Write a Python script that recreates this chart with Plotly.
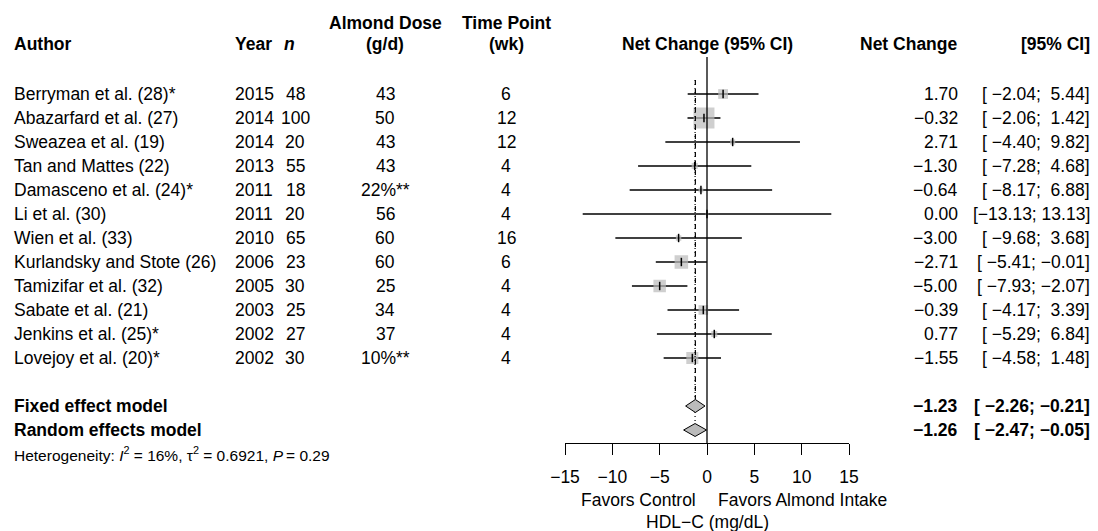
import plotly.graph_objects as go
import numpy as np

# ---- data ----
authors = ["Berryman et al. (28)*", "Abazarfard et al. (27)", "Sweazea et al. (19)",
           "Tan and Mattes (22)", "Damasceno et al. (24)*", "Li et al. (30)",
           "Wien et al. (33)", "Kurlandsky and Stote (26)", "Tamizifar et al. (32)",
           "Sabate et al. (21)", "Jenkins et al. (25)*", "Lovejoy et al. (20)*"]
years = [2015, 2014, 2014, 2013, 2011, 2011, 2010, 2006, 2005, 2003, 2002, 2002]
n_sub = [48, 100, 20, 55, 18, 20, 65, 23, 30, 25, 27, 30]
dose = ["43", "50", "43", "43", "22%**", "56", "60", "60", "25", "34", "37", "10%**"]
weeks = [6, 12, 12, 4, 4, 4, 16, 6, 4, 4, 4, 4]
net_change = [1.70, -0.32, 2.71, -1.30, -0.64, 0.00, -3.00, -2.71, -5.00, -0.39, 0.77, -1.55]
ci_lower = [-2.04, -2.06, -4.40, -7.28, -8.17, -13.13, -9.68, -5.41, -7.93, -4.17, -5.29, -4.58]
ci_upper = [5.44, 1.42, 9.82, 4.68, 6.88, 13.13, 3.68, -0.01, -2.07, 3.39, 6.84, 1.48]
fixed_est, fixed_lo, fixed_hi = -1.23, -2.26, -0.21
random_est, random_lo, random_hi = -1.26, -2.47, -0.05
het_i2, het_tau2, het_p = "16%", "0.6921", "0.29"
tick_vals = [-15, -10, -5, 0, 5, 10, 15]

W, H = 1098, 531
FONT = "Liberation Sans, Arial, Helvetica, sans-serif"
FS = 17.5
GREY = "#BBBBBB"

def px(x):
    return x / W

def mfmt(v):
    return f"{v:.2f}".replace("-", "\u2212")

k = len(authors)
rows = list(range(k))
row_fixed, row_random, row_het = k + 1, k + 2, k + 3
row_axis = (443 - 94) / 24

# y axis in row units: row 0 at pixel 94, 24 px per row
y_top = -94 / 24
y_bot = (H - 94) / 24

fig = go.Figure()

# CI lines
cx, cy = [], []
for r, lo, hi in zip(rows, ci_lower, ci_upper):
    cx += [lo, hi, None]
    cy += [r, r, None]
fig.add_trace(go.Scatter(x=cx, y=cy, mode="lines", line=dict(color="black", width=1.3),
                         hoverinfo="skip", showlegend=False))

# squares sized by inverse-variance weight
se = (np.array(ci_upper) - np.array(ci_lower)) / 3.92
w = 1 / se ** 2
sizes = 21 * np.sqrt(w / w.max())
fig.add_trace(go.Scatter(x=net_change, y=rows, mode="markers",
                         marker=dict(symbol="square", size=sizes, color=GREY, line=dict(width=0)),
                         hoverinfo="skip", showlegend=False))
fig.add_trace(go.Scatter(x=net_change, y=rows, mode="markers",
                         marker=dict(symbol="line-ns", size=6, line=dict(color="black", width=1.5)),
                         hoverinfo="skip", showlegend=False))

# reference lines
fig.add_trace(go.Scatter(x=[0, 0], y=[-1.54, row_axis], mode="lines",
                         line=dict(color="black", width=1.3), hoverinfo="skip", showlegend=False))
fig.add_trace(go.Scatter(x=[fixed_est, fixed_est], y=[-0.58, row_fixed - 0.27], mode="lines",
                         line=dict(color="black", width=1.2, dash="5px,4px"),
                         hoverinfo="skip", showlegend=False))
fig.add_trace(go.Scatter(x=[random_est, random_est], y=[-0.58, row_random - 0.27], mode="lines",
                         line=dict(color="black", width=1.2, dash="1px,3px"),
                         hoverinfo="skip", showlegend=False))

# diamonds
for r, est, lo, hi in [(row_fixed, fixed_est, fixed_lo, fixed_hi),
                       (row_random, random_est, random_lo, random_hi)]:
    fig.add_trace(go.Scatter(x=[lo, est, hi, est, lo], y=[r, r - 0.27, r, r + 0.27, r],
                             mode="lines", fill="toself", fillcolor=GREY,
                             line=dict(color="black", width=1), hoverinfo="skip", showlegend=False))

ann = []

def add(text, x, y, anchor="left", bold=False, size=FS, xref="paper"):
    if bold:
        text = f"<b>{text}</b>"
    ann.append(dict(text=text, x=x, y=y, xref=xref, yref="y", xanchor=anchor, yanchor="middle",
                    showarrow=False, font=dict(family=FONT, size=size, color="black")))

X_AUTH, X_YEAR, X_N, X_DOSE, X_WK, X_NC, X_CI = 12, 233, 295, 385, 506, 960, 1092
X_ZERO = 707

# headers
hy2, hy1 = -2.08, -2.96
add("Author", px(X_AUTH), hy2, bold=True)
add("Year", px(X_YEAR), hy2, bold=True)
add("<i>n</i>", px(X_N - 6), hy2, "center", bold=True)
add("Almond Dose", px(X_DOSE), hy1, "center", bold=True)
add("(g/d)", px(X_DOSE), hy2, "center", bold=True)
add("Time Point", px(X_WK), hy1, "center", bold=True)
add("(wk)", px(X_WK), hy2, "center", bold=True)
add("Net Change (95% CI)", px(X_ZERO), hy2, "center", bold=True)
add("Net Change", px(X_NC), hy2, "right", bold=True)
add("[95% CI]", px(X_CI), hy2, "right", bold=True)

# CI string formatting (R meta style padding)
lo_all = ci_lower + [fixed_lo, random_lo]
hi_all = ci_upper + [fixed_hi, random_hi]
lw = max(len(mfmt(v)) for v in lo_all)
hw = max(len(mfmt(v)) for v in hi_all)

def cistr(lo, hi):
    s = "[" + mfmt(lo).rjust(lw) + "; " + mfmt(hi).rjust(hw) + "]"
    return s.replace(" ", "\u00a0")

for i, r in enumerate(rows):
    add(authors[i], px(X_AUTH), r)
    add(str(years[i]), px(X_YEAR), r)
    add(str(n_sub[i]), px(X_N), r, "center")
    add(dose[i], px(X_DOSE), r, "center")
    add(str(weeks[i]), px(X_WK), r, "center")
    add(mfmt(net_change[i]), px(X_NC), r, "right")
    add(cistr(ci_lower[i], ci_upper[i]), px(X_CI), r, "right")

add("Fixed effect model", px(X_AUTH), row_fixed, bold=True)
add("Random effects model", px(X_AUTH), row_random, bold=True)
add(mfmt(fixed_est), px(X_NC), row_fixed, "right", bold=True)
add(mfmt(random_est), px(X_NC), row_random, "right", bold=True)
add(cistr(fixed_lo, fixed_hi), px(X_CI), row_fixed, "right", bold=True)
add(cistr(random_lo, random_hi), px(X_CI), row_random, "right", bold=True)
add(f"Heterogeneity: <i>I</i><sup>2</sup> = {het_i2}, \u03c4<sup>2</sup> = {het_tau2}, <i>P</i>\u2009= {het_p}",
    px(X_AUTH), row_het, size=15.5)

add("Favors Control", -1, 16.92, "right", xref="x")
add("Favors Almond Intake", 1, 16.92, "left", xref="x")
add("HDL\u2212C (mg/dL)", 0, 17.83, "center", xref="x")

fig.update_layout(
    width=W, height=H, autosize=False,
    margin=dict(l=0, r=0, t=0, b=0, pad=0, autoexpand=False),
    paper_bgcolor="white", plot_bgcolor="white",
    annotations=ann,
    xaxis=dict(domain=[565 / W, 849 / W], range=[-15, 15], anchor="free",
               position=1 - 443 / H, showgrid=False, zeroline=False,
               showline=True, linecolor="black", linewidth=1.3,
               ticks="outside", ticklen=11, tickwidth=1.3, tickcolor="black",
               ticklabelstandoff=7,
               tickvals=tick_vals, ticktext=[mfmt(v).replace(".00", "") for v in tick_vals],
               tickfont=dict(family=FONT, size=FS, color="black")),
    yaxis=dict(domain=[0, 1], range=[y_bot, y_top], visible=False),
)

fig.write_html("out.html", config={"displayModeBar": False},
               post_script="document.body.style.margin='0';document.body.style.overflow='hidden';")
